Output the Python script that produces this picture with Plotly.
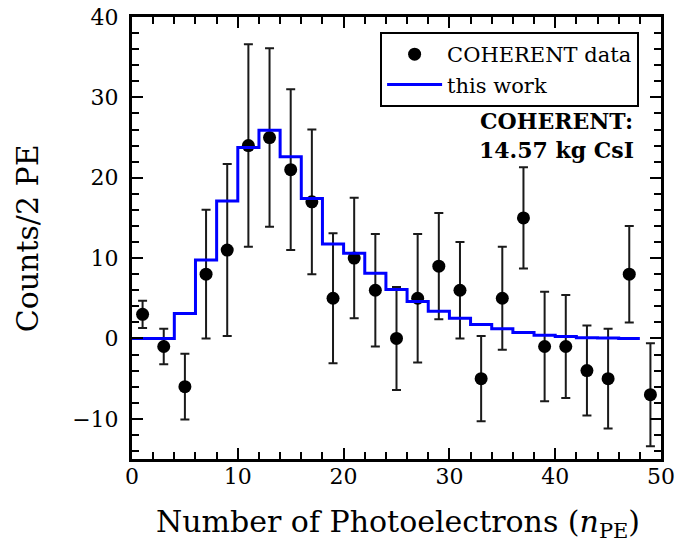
import plotly.graph_objects as go

# Measured spectrum: bin centres (2-PE bins), counts and 1-sigma errors
n_pe = [1, 3, 5, 7, 9, 11, 13, 15, 17, 19, 21, 23, 25,
        27, 29, 31, 33, 35, 37, 39, 41, 43, 45, 47, 49]
counts = [3, -1, -6, 8, 11, 24, 25, 21, 17, 5, 10, 6, 0,
          5, 9, 6, -5, 5, 15, -1, -1, -4, -5, 8, -7]
count_err = [1.7, 2.2, 4.1, 8.0, 10.7, 12.6, 11.1, 10.0, 9.0, 8.1, 7.5, 7.0, 6.4,
             8.0, 6.6, 6.0, 5.3, 6.4, 6.3, 6.8, 6.4, 5.6, 6.2, 6.0, 6.4]

# Predicted histogram: bin edges and per-bin expectation
bin_edges = list(range(0, 50, 2))
prediction = [0, 0, 3.1, 9.75, 17.1, 23.75, 25.9, 22.6, 17.4, 11.75, 10.6, 8.1,
              6.1, 4.6, 3.4, 2.5, 1.75, 1.2, 0.75, 0.4, 0.25, 0.1, 0.05, 0]

SERIF = "DejaVu Serif"

fig = go.Figure()

# step line: repeat last bin value at the closing edge
step_x = bin_edges
step_y = prediction + [prediction[-1]]

fig.add_trace(go.Scatter(
    x=n_pe, y=counts, mode="markers", name="COHERENT data",
    marker=dict(color="black", size=13),
    error_y=dict(type="data", array=count_err, visible=True,
                 color="#1a1a1a", thickness=2, width=4.5),
))

fig.add_trace(go.Scatter(
    x=step_x, y=step_y, mode="lines", name="this work",
    line=dict(color="#0000ff", width=3, shape="hv"),
))

axis_common = dict(
    showline=True, linecolor="black", linewidth=3, mirror="ticks",
    ticks="inside", ticklen=11, tickwidth=2, tickcolor="black",
    showgrid=False, zeroline=False, automargin=False,
    tickfont=dict(family=SERIF, size=22, color="black"),
)

fig.update_xaxes(
    range=[0, 50], dtick=10, tick0=0,
    minor=dict(dtick=2, ticks="inside", ticklen=7, tickwidth=2, tickcolor="black"),
    ticklabelstandoff=-4,
    **axis_common,
)
fig.update_yaxes(
    range=[-15, 40], dtick=10, tick0=0,
    minor=dict(dtick=2, ticks="inside", ticklen=7, tickwidth=2, tickcolor="black"),
    ticklabelstandoff=6,
    **axis_common,
)

# axis titles placed as paper-anchored text
fig.add_annotation(
    text="Number of Photoelectrons (<i>n</i><sub>PE</sub>)",
    xref="paper", yref="paper", x=0.502, y=-0.145,
    xanchor="center", yanchor="middle", showarrow=False,
    font=dict(family=SERIF, size=30, color="black"),
)
fig.add_annotation(
    text="Counts/2 PE",
    xref="paper", yref="paper", x=-0.198, y=0.50, textangle=-90,
    xanchor="center", yanchor="middle", showarrow=False,
    font=dict(family=SERIF, size=30, color="black"),
)

fig.add_annotation(
    text="<b>COHERENT:</b><br><b>14.57 kg CsI</b>",
    xref="paper", yref="paper", x=0.803, y=0.733,
    xanchor="center", yanchor="middle", align="center", showarrow=False,
    font=dict(family=SERIF, size=22, color="black"),
)

fig.update_layout(
    width=678, height=544,
    margin=dict(l=132, r=17, t=17, b=85),
    plot_bgcolor="white", paper_bgcolor="white",
    showlegend=True,
    legend=dict(
        x=0.469, y=0.966, xanchor="left", yanchor="top",
        bgcolor="white", bordercolor="black", borderwidth=2,
        font=dict(family=SERIF, size=21, color="black"),
        tracegroupgap=0, itemwidth=55, entrywidth=205,
    ),
)

fig.write_html("out.html")
